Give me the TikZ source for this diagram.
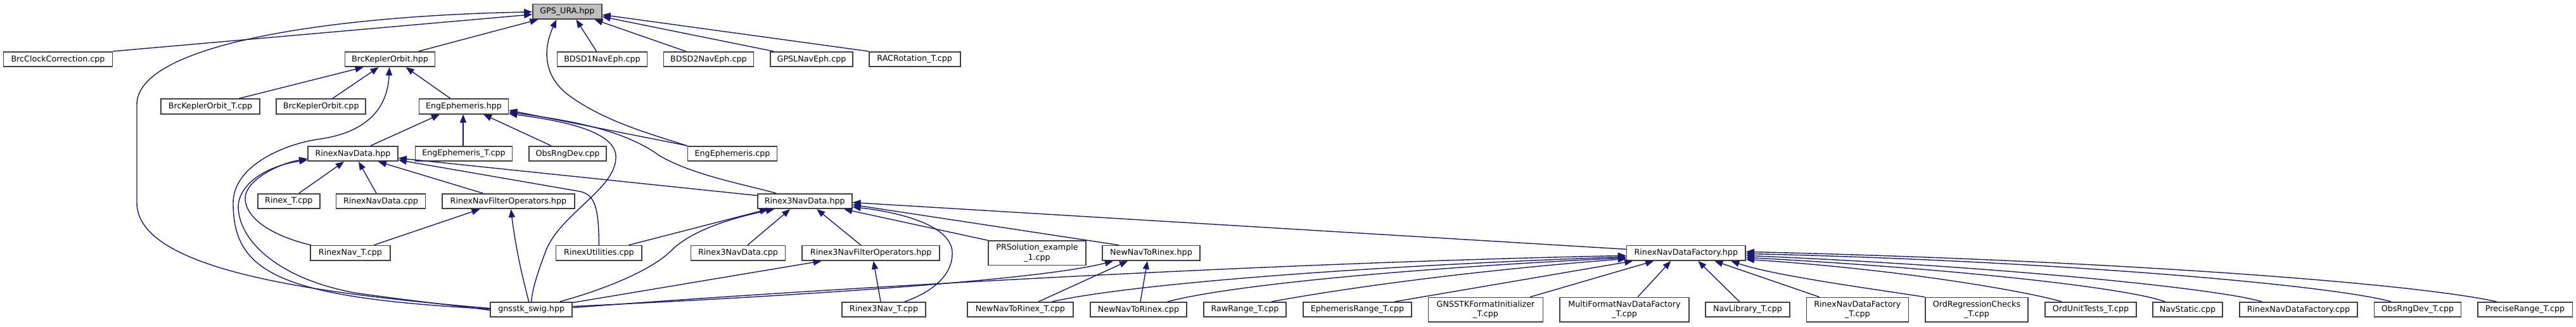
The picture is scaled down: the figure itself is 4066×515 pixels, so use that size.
\documentclass[tikz,border=0pt]{standalone}
\usepackage{fontspec}
\setmainfont{DejaVu Sans}
\usetikzlibrary{arrows.meta}
\definecolor{edgeblue}{HTML}{191970}
\definecolor{boxline}{HTML}{404040}
\definecolor{rootfill}{HTML}{BFBFBF}
\begin{document}
\begin{tikzpicture}[x=1pt,y=-1pt,
  box/.style={draw=boxline, fill=white, line width=1.6pt, minimum height=23.5pt, inner xsep=2pt, inner ysep=0pt, font=\fontsize{12.7}{15.7}\selectfont, align=center, text=black},
  twoline/.style={minimum height=38.5pt},
  inc/.style={draw=edgeblue, line width=1.4pt, {Triangle[length=13pt,width=10pt]}-}]
\fill[white] (0,0) rectangle (4066,515);
\useasboundingbox (0,0) rectangle (4066,515);
% nodes
\node[box,fill=rootfill,minimum width=109pt] (gps) at (895.4,18.3) {GPS\_URA.hpp};
\node[box,minimum width=172pt] (bcc) at (91.5,93.5) {BrcClockCorrection.cpp};
\node[box,minimum width=142pt] (bko) at (615.6,93.5) {BrcKeplerOrbit.hpp};
\node[box,minimum width=142pt] (bd1) at (950.5,93.5) {BDSD1NavEph.cpp};
\node[box,minimum width=142pt] (bd2) at (1118.4,93.5) {BDSD2NavEph.cpp};
\node[box,minimum width=130pt] (gpsl) at (1281,93.5) {GPSLNavEph.cpp};
\node[box,minimum width=144pt] (rac) at (1443.7,93.5) {RACRotation\_T.cpp};
\node[box,minimum width=156pt] (bkot) at (332,168) {BrcKeplerOrbit\_T.cpp};
\node[box,minimum width=141pt] (bkoc) at (506.7,168) {BrcKeplerOrbit.cpp};
\node[box,minimum width=141pt] (eeh) at (732,168) {EngEphemeris.hpp};
\node[box,minimum width=142pt] (rnd) at (557,242.5) {RinexNavData.hpp};
\node[box,minimum width=153pt] (eet) at (732,242.5) {EngEphemeris\_T.cpp};
\node[box,minimum width=122pt] (ord) at (896,242.5) {ObsRngDev.cpp};
\node[box,minimum width=141pt] (eec) at (1156,242.5) {EngEphemeris.cpp};
\node[box,minimum width=98pt] (rt) at (455.8,317.5) {Rinex\_T.cpp};
\node[box,minimum width=141pt] (rndc) at (601,317.5) {RinexNavData.cpp};
\node[box,minimum width=209pt] (rnfo) at (802.4,317.5) {RinexNavFilterOperators.hpp};
\node[box,minimum width=149pt] (r3nd) at (1270.2,317.5) {Rinex3NavData.hpp};
\node[box,minimum width=125.5pt] (rnt) at (553,399.3) {RinexNav\_T.cpp};
\node[box,minimum width=135.5pt] (ru) at (945.4,399.3) {RinexUtilities.cpp};
\node[box,minimum width=149pt] (r3ndc) at (1165,399.3) {Rinex3NavData.cpp};
\node[box,minimum width=217pt] (r3nfo) at (1374.7,399.3) {Rinex3NavFilterOperators.hpp};
\node[box,twoline,minimum width=154pt] (prs) at (1637,399.3) {PRSolution\_example\\\_1.cpp};
\node[box,minimum width=154pt] (nntr) at (1817,399.3) {NewNavToRinex.hpp};
\node[box,minimum width=187.5pt] (rndf) at (2661.3,399.3) {RinexNavDataFactory.hpp};
\node[box,minimum width=129pt] (swig) at (838.7,488.5) {gnsstk\_swig.hpp};
\node[box,minimum width=132pt] (r3nt) at (1395,488.5) {Rinex3Nav\_T.cpp};
\node[box,minimum width=167pt] (nntrt) at (1610.4,488.5) {NewNavToRinex\_T.cpp};
\node[box,minimum width=152.5pt] (nntrc) at (1797,488.5) {NewNavToRinex.cpp};
\node[box,minimum width=130pt] (rrt) at (1965,488.5) {RawRange\_T.cpp};
\node[box,minimum width=171pt] (ert) at (2142.5,488.5) {EphemerisRange\_T.cpp};
\node[box,twoline,minimum width=181pt] (gfi) at (2345,488.7) {GNSSTKFormatInitializer\\\_T.cpp};
\node[box,twoline,minimum width=204pt] (mfn) at (2564,488.7) {MultiFormatNavDataFactory\\\_T.cpp};
\node[box,minimum width=133pt] (nlt) at (2758.5,488.5) {NavLibrary\_T.cpp};
\node[box,twoline,minimum width=161pt] (rndft) at (2931.8,488.7) {RinexNavDataFactory\\\_T.cpp};
\node[box,twoline,minimum width=162pt] (orc) at (3120,488.7) {OrdRegressionChecks\\\_T.cpp};
\node[box,minimum width=144pt] (out) at (3300,488.5) {OrdUnitTests\_T.cpp};
\node[box,minimum width=110pt] (ns) at (3453,488.5) {NavStatic.cpp};
\node[box,minimum width=186pt] (rndfc) at (3628,488.5) {RinexNavDataFactory.cpp};
\node[box,minimum width=137pt] (ordt) at (3816,488.5) {ObsRngDev\_T.cpp};
\node[box,minimum width=149.5pt] (prt) at (3985.5,488.5) {PreciseRange\_T.cpp};
% GPS_URA.hpp
\draw[inc] ([yshift=-4.5pt]gps.west) -- (bcc.north east);
\draw[inc] ([yshift=-0.5pt]gps.west) .. controls (520,25) and (216,70) .. (216,165) -- (216,320) .. controls (216,430) and (520,465) .. ([yshift=2pt]swig.west);
\draw[inc] ([xshift=-46pt]gps.south) -- ([xshift=45pt]bko.north);
\draw[inc] ([xshift=-17pt]gps.south) .. controls (858,75) and (855,120) .. (900,152) .. controls (960,195) and (1040,215) .. ([xshift=-72pt]eec.north);
\draw[inc] ([xshift=14pt]gps.south) -- ([xshift=-9pt]bd1.north);
\draw[inc] ([xshift=43pt]gps.south) -- ([xshift=-36pt]bd2.north);
\draw[inc] ([yshift=-8pt]gps.east) -- ([xshift=-60pt]gpsl.north);
\draw[inc] ([yshift=-5pt]gps.east) -- (rac.north west);
% BrcKeplerOrbit.hpp
\draw[inc] ([xshift=-42pt]bko.south) -- ([xshift=45pt]bkot.north);
\draw[inc] ([xshift=-18pt]bko.south) -- ([xshift=18pt]bkoc.north);
\draw[inc] ([xshift=25pt]bko.south) -- ([xshift=-21pt]eeh.north);
\draw[inc] ([xshift=-1pt]bko.south) .. controls (612,170) and (580,210) .. (500,220) .. controls (440,230) and (368,265) .. (368,320) .. controls (368,430) and (440,470) .. ([yshift=1pt]swig.west);
% EngEphemeris.hpp
\draw[inc] ([xshift=-38pt]eeh.south) -- ([xshift=28pt]rnd.north);
\draw[inc] ([xshift=-1pt]eeh.south) -- ([xshift=-1pt]eet.north);
\draw[inc] ([xshift=31pt]eeh.south) -- ([xshift=-26pt]ord.north);
\draw[inc] ([yshift=-6pt]eeh.east) -- ([xshift=-71pt]eec.north);
\draw[inc] ([yshift=-9pt]eeh.east) .. controls (900,190) and (985,205) .. (1040,245) .. controls (1090,275) and (1170,290) .. ([xshift=-45pt]r3nd.north);
\draw[inc] ([yshift=-11.5pt]eeh.east) .. controls (900,192) and (975,210) .. (972,250) .. controls (970,300) and (880,340) .. (860,400) .. controls (845,440) and (840,460) .. (swig.north);
% RinexNavData.hpp
\draw[inc] ([xshift=-14pt]rnd.south) -- ([xshift=16pt]rt.north);
\draw[inc] ([xshift=9pt]rnd.south) -- ([xshift=-7pt]rndc.north);
\draw[inc] ([xshift=40pt]rnd.south) -- ([xshift=-40pt]rnfo.north);
\draw[inc] ([yshift=-10pt]rnd.east) -- (915,302) .. controls (940,307) and (945,330) .. (ru.north);
\draw[inc] ([yshift=-7pt]rnd.east) -- ([yshift=9pt]r3nd.west);
\draw[inc] ([yshift=-8pt]rnd.west) .. controls (440,258) and (385,285) .. (387,315) .. controls (390,350) and (440,375) .. ([xshift=-62pt]rnt.north);
\draw[inc] ([yshift=-10pt]rnd.west) .. controls (420,262) and (378,290) .. (376,325) .. controls (376,380) and (440,440) .. (560,462) .. controls (650,475) and (720,482) .. ([yshift=-1pt]swig.west);
% RinexNavFilterOperators.hpp
\draw[inc] ([xshift=4pt]rnfo.south) .. controls (815,400) and (828,450) .. ([xshift=-4pt]swig.north);
\draw[inc] ([xshift=-45pt]rnfo.south) -- ([xshift=37pt]rnt.north);
% Rinex3NavData.hpp
\draw[inc] ([xshift=-58pt]r3nd.south) -- ([xshift=47pt]ru.north);
\draw[inc] ([xshift=-48pt]r3nd.south) .. controls (1150,345) and (1090,365) .. (1060,395) .. controls (1030,425) and (960,455) .. ([xshift=45pt]swig.north);
\draw[inc] ([xshift=-23pt]r3nd.south) -- ([xshift=15pt]r3ndc.north);
\draw[inc] ([xshift=19pt]r3nd.south) -- ([xshift=-16pt]r3nfo.north);
\draw[inc] ([xshift=62pt]r3nd.south) -- (prs.north west);
\draw[inc] ([yshift=-5.5pt]r3nd.east) -- ([xshift=-51pt]nntr.north);
\draw[inc] ([yshift=-9pt]r3nd.east) .. controls (1420,335) and (1500,355) .. (1503,397) .. controls (1505,440) and (1460,465) .. ([xshift=33pt]r3nt.north);
\draw[inc] ([yshift=-2pt]r3nd.east) -- ([yshift=6pt]rndf.west);
% Rinex3NavFilterOperators.hpp
\draw[inc] ([xshift=-78pt]r3nfo.south) -- ([yshift=11pt]swig.east);
\draw[inc] ([xshift=4pt]r3nfo.south) -- ([xshift=-5pt]r3nt.north);
% NewNavToRinex.hpp
\draw[inc] ([xshift=-60pt]nntr.south) .. controls (1650,440) and (1300,465) .. ([yshift=5pt]swig.east);
\draw[inc] ([xshift=-37pt]nntr.south) -- ([xshift=29pt]nntrt.north);
\draw[inc] ([xshift=-6pt]nntr.south) -- ([xshift=3pt]nntrc.north);
% RinexNavDataFactory.hpp
\draw[inc] ([yshift=-4pt]rndf.west) .. controls (2000,415) and (1300,455) .. ([yshift=3pt]swig.east);
\draw[inc] ([yshift=-6pt]rndf.west) .. controls (2200,418) and (1800,445) .. ([xshift=50pt]nntrt.north);
\draw[inc] ([yshift=-7.5pt]rndf.west) .. controls (2250,422) and (1950,448) .. ([xshift=46pt]nntrc.north);
\draw[inc] ([yshift=-9pt]rndf.west) .. controls (2350,425) and (2150,450) .. ([xshift=42pt]rrt.north);
\draw[inc] ([xshift=-84pt]rndf.south) -- ([xshift=59pt]ert.north);
\draw[inc] ([xshift=-51pt]rndf.south) -- ([xshift=70pt]gfi.north);
\draw[inc] ([xshift=-24pt]rndf.south) -- ([xshift=21pt]mfn.north);
\draw[inc] ([xshift=19pt]rndf.south) -- ([xshift=-13pt]nlt.north);
\draw[inc] ([xshift=45pt]rndf.south) -- ([xshift=-60pt]rndft.north);
\draw[inc] ([xshift=71pt]rndf.south) .. controls (2800,435) and (2950,455) .. ([xshift=-82pt]orc.north);
\draw[inc] ([yshift=-10pt]rndf.east) .. controls (3000,425) and (3200,460) .. ([xshift=-46pt]out.north);
\draw[inc] ([yshift=-7pt]rndf.east) .. controls (3100,425) and (3360,455) .. ([xshift=-36pt]ns.north);
\draw[inc] ([yshift=-4pt]rndf.east) .. controls (3150,420) and (3500,455) .. ([xshift=-58pt]rndfc.north);
\draw[inc] ([yshift=-1pt]rndf.east) .. controls (3250,412) and (3680,450) .. ([xshift=-42pt]ordt.north);
\draw[inc] ([yshift=2pt]rndf.east) .. controls (3300,410) and (3800,445) .. ([xshift=-45pt]prt.north);
\end{tikzpicture}
\end{document}
